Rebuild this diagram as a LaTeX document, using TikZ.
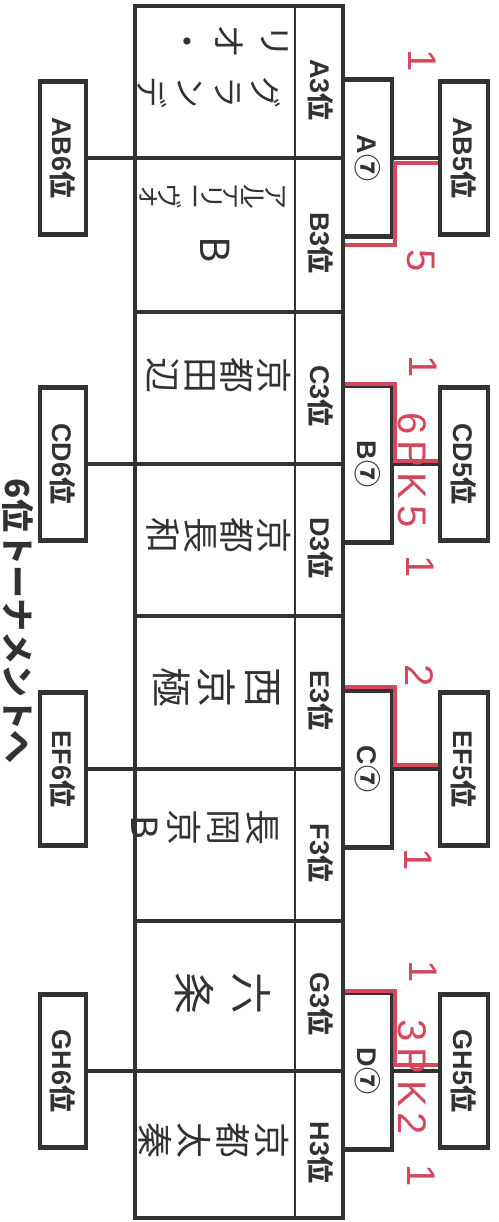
\documentclass[tikz,border=0pt]{standalone}
\usepackage{fontspec}
\usepackage{graphicx}
\setmainfont{Liberation Sans}
\newfontfamily\jp{Noto Sans CJK JP}
\usetikzlibrary{positioning}
\definecolor{ink}{RGB}{50,50,50}
\definecolor{pen}{RGB}{212,72,94}
\tikzset{
  tbl/.style={draw=ink,line width=4.5pt},
  midline/.style={draw=ink,line width=3.5pt},
  divline/.style={draw=ink,line width=2.5pt},
  slot/.style={rotate=-90,font=\fontsize{27}{27}\selectfont\bfseries,text=ink},
  tag/.style={rectangle,draw=ink,line width=4.5pt,minimum width=48pt,minimum height=153pt,
    inner sep=0pt,font=\fontsize{27}{27}\selectfont\bfseries,text=ink},
  seedbox/.style={tag,minimum width=49pt,minimum height=157pt},
  link/.style={draw=ink,line width=4pt},
  win/.style={draw=pen,line width=4.5pt},
  hand/.style={text=ink,font=\jp\fontsize{#1}{#1}\selectfont,inner sep=0pt},
  hand/.default=36,
  score/.style={rotate=-90,text=pen,font=\fontsize{40}{40}\selectfont,inner sep=0pt}
}
\newcommand{\rnk}{{\jp 位}}
\newcommand{\svn}{{\jp ⑦}}

\begin{document}
\begin{tikzpicture}[x=1pt,y=-1pt]
  \useasboundingbox (0,0) rectangle (498,1222);

  % blocks of the bracket
  \foreach \tp/\md/\bt/\pr/\up/\lo/\sd/\ya/\yb in
    {6/158/312/AB/A/B/A/245/163, 312/464/616/CD/C/D/B/384/461,
     616/769/921/EF/E/F/C/687/765, 921/1071/1218/GH/G/H/D/991/1065}
  {
    \draw[tbl] (135,\tp) rectangle (343,\bt);
    \draw[midline] (135,\md) -- (343,\md);
    \draw[divline] (295,\tp) -- (295,\bt);
    \node[slot] (\up3) at (321,{(\tp+\md)/2+8}) {\up3\rnk};
    \node[slot] (\lo3) at (321,{(\md+\bt)/2+8}) {\lo3\rnk};
    \node[seedbox] (s\sd) at (367.5,\md) {\rotatebox{-90}{\sd\svn}};
    \node[tag] (\pr5) at (464,\md) {\rotatebox{-90}{\pr5\rnk}};
    \node[tag,minimum width=46pt] (\pr6) at (63,\md) {\rotatebox{-90}{\pr6\rnk}};
    \coordinate (e\pr) at (135,\md);
    \coordinate (w\pr) at (395,\yb);
    \draw[link] (\pr6) -- (e\pr);
    \draw[link] (s\sd) -- (\pr5);
    \draw[win] (345,\ya) -| (w\pr) -- (\pr5.west |- w\pr);
  }

  % team names (hand written, one glyph per node)
  \foreach \ch [count=\k from 0] in {リ,オ,・}
    \node[hand=34] (ha\k) at ({275-46*\k},42) {\rotatebox{-90}{\ch}};
  \foreach \ch [count=\k from 0] in {グ,ラ,ン,デ}
    \node[hand=32] (hb\k) at ({266-38*\k},93) {\rotatebox{-90}{\ch}};
  \foreach \ch [count=\k from 0] in {ア,ル,テ,リ,ー,ヴ,ォ}
    \node[hand=26] (hc\k) at ({275-21*\k},197) {\rotatebox{-90}{\ch}};
  \node[hand=40] (hcB) at (215,250) {\rotatebox{-90}{B}};
  \foreach \ch [count=\k from 0] in {京,都,田,辺}
    \node[hand] (hd\k) at ({274-37*\k},375) {\rotatebox{-90}{\ch}};
  \foreach \ch [count=\k from 0] in {京,都,長,和}
    \node[hand] (he\k) at ({274-37*\k},535) {\rotatebox{-90}{\ch}};
  \foreach \ch [count=\k from 0] in {西,京,極}
    \node[hand=40] (hf\k) at ({262-45*\k},687) {\rotatebox{-90}{\ch}};
  \foreach \ch [count=\k from 0] in {長,岡,京,B}
    \node[hand] (hg\k) at ({262-39*\k},827) {\rotatebox{-90}{\ch}};
  \foreach \ch [count=\k from 0] in {六,条}
    \node[hand=42] (hh\k) at ({252-58*\k},993) {\rotatebox{-90}{\ch}};
  \foreach \ch [count=\k from 0] in {京,都,太,秦}
    \node[hand] (hi\k) at ({272-39*\k},1140) {\rotatebox{-90}{\ch}};

  % scores
  \node[score] (sc1) at (422,61) {1};
  \node[score] (sc2) at (421,261) {5};
  \node[score] (sc3) at (423,367) {1};
  \node[score] (sc4) at (412,470) {6\kern6pt P\kern6pt K\kern6pt 5};
  \node[score] (sc5) at (420,567) {1};
  \node[score] (sc6) at (419,676) {2};
  \node[score] (sc7) at (418,860) {1};
  \node[score] (sc8) at (423,972) {1};
  \node[score] (sc9) at (412,1077) {3\kern6pt P\kern6pt K\kern6pt 2};
  \node[score] (sc10) at (421,1176) {1};

  \node[rotate=-90,text=ink,font=\jp\fontsize{33}{33}\selectfont\bfseries] (next) at (18,621) {6位トーナメントへ};
\end{tikzpicture}
\end{document}
